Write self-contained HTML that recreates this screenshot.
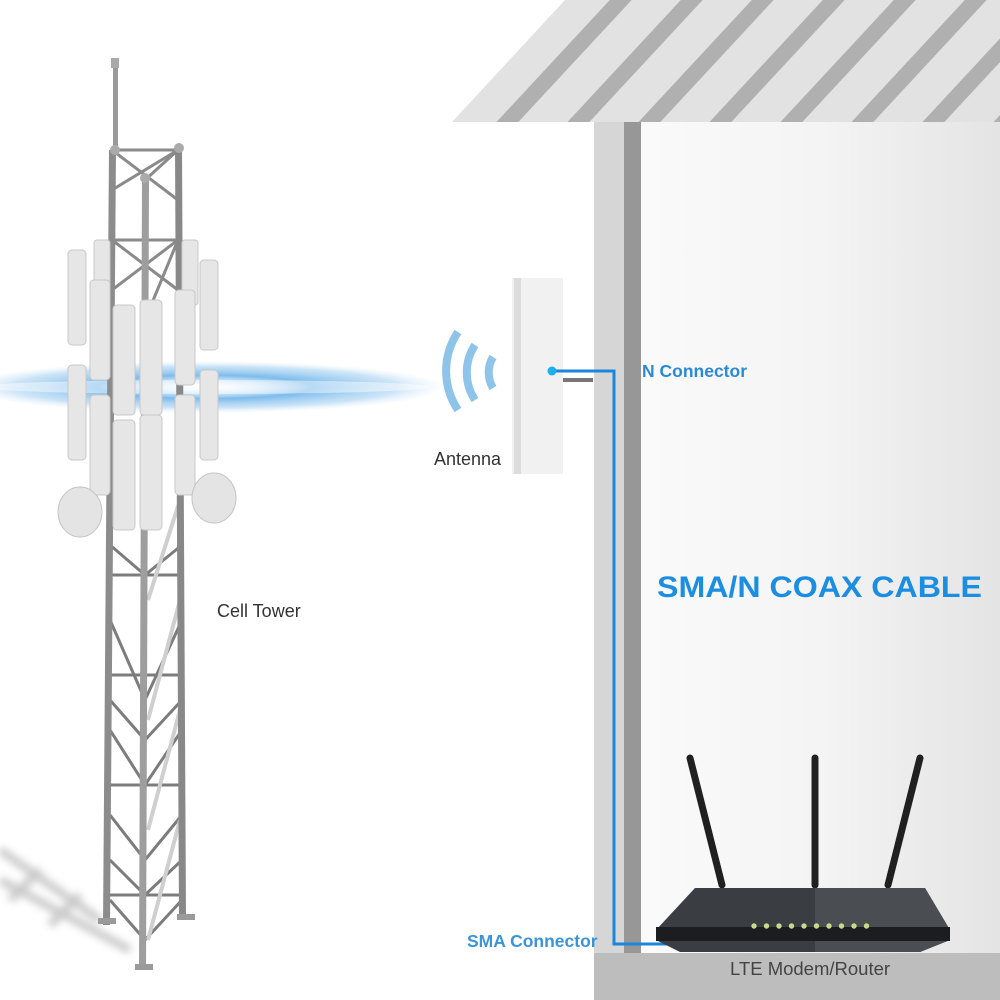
<!DOCTYPE html>
<html><head><meta charset="utf-8"><style>
html,body{margin:0;padding:0;background:#fff;}
svg{display:block;font-family:"Liberation Sans",Arial,sans-serif;}
</style></head><body>
<svg width="1000" height="1000" viewBox="0 0 1000 1000" xmlns="http://www.w3.org/2000/svg">
<defs>
<linearGradient id="wall" x1="0" x2="1" y1="0" y2="0">
<stop offset="0" stop-color="#fafafa"/><stop offset="0.5" stop-color="#f4f4f4"/><stop offset="1" stop-color="#e4e4e4"/>
</linearGradient>
<radialGradient id="beam" cx="0.5" cy="0.5" r="0.5">
<stop offset="0" stop-color="#ffffff" stop-opacity="0.3"/>
<stop offset="0.45" stop-color="#6fb4ea" stop-opacity="0.9"/>
<stop offset="0.8" stop-color="#a8d2f2" stop-opacity="0.6"/>
<stop offset="1" stop-color="#cfe6f8" stop-opacity="0"/>
</radialGradient>
<clipPath id="roofclip"><polygon points="452,122 565,0 1000,0 1000,122"/></clipPath>
<filter id="blur"><feGaussianBlur stdDeviation="4"/></filter>
</defs>

<!-- roof -->
<polygon points="452,122 565,0 1000,0 1000,122" fill="#e2e2e2"/>
<g clip-path="url(#roofclip)" stroke="#b0b0b0" stroke-width="16">
<line x1="500" y1="130" x2="630" y2="-10"/>
<line x1="571" y1="130" x2="701" y2="-10"/>
<line x1="642" y1="130" x2="772" y2="-10"/>
<line x1="713" y1="130" x2="843" y2="-10"/>
<line x1="784" y1="130" x2="914" y2="-10"/>
<line x1="855" y1="130" x2="985" y2="-10"/>
<line x1="926" y1="130" x2="1056" y2="-10"/>
<line x1="997" y1="130" x2="1127" y2="-10"/>
</g>

<!-- wall -->
<rect x="594" y="122" width="30" height="831" fill="#d6d6d6"/>
<rect x="624" y="122" width="17" height="831" fill="#979797"/>
<rect x="641" y="122" width="359" height="831" fill="url(#wall)"/>
<rect x="594" y="953" width="406" height="47" fill="#bdbdbd"/>

<!-- shadow of tower -->
<g filter="url(#blur)" opacity="0.45" stroke="#888" stroke-width="8">
<line x1="0" y1="850" x2="100" y2="920"/>
<line x1="0" y1="880" x2="130" y2="950"/>
<line x1="10" y1="900" x2="40" y2="870"/>
<line x1="50" y1="925" x2="80" y2="895"/>
</g>

<!-- beam -->
<ellipse cx="205" cy="387" rx="240" ry="26" fill="url(#beam)"/>
<ellipse cx="205" cy="387" rx="225" ry="7" fill="#ffffff" opacity="0.45"/>

<!-- tower lattice -->
<g stroke="#8a8a8a" stroke-width="3" fill="none">
<line x1="112" y1="150" x2="178" y2="150"/>
<line x1="112" y1="190" x2="178" y2="150"/>
<line x1="112" y1="150" x2="178" y2="200"/>
<line x1="112" y1="240" x2="178" y2="240"/>
<line x1="112" y1="290" x2="178" y2="240"/>
<line x1="112" y1="240" x2="178" y2="290"/>
<line x1="145" y1="180" x2="178" y2="150"/>
<line x1="145" y1="320" x2="178" y2="240"/>
</g>
<g stroke="#7c7c7c" stroke-width="3" fill="none">
<polyline points="110,545 145,575 182,545"/>
<line x1="110" y1="575" x2="182" y2="575"/>
<polyline points="110,620 145,700 182,620"/>
<line x1="110" y1="675" x2="182" y2="675"/>
<polyline points="110,700 145,740 182,700"/>
<line x1="110" y1="785" x2="182" y2="785"/>
<polyline points="110,730 145,785 182,730"/>
<polyline points="110,815 145,860 182,815"/>
<line x1="110" y1="895" x2="182" y2="895"/>
<polyline points="110,860 145,895 182,860"/>
<polyline points="110,900 145,940 182,900"/>
</g>
<g stroke="#cfcfcf" stroke-width="4">
<line x1="148" y1="720" x2="180" y2="600"/>
<line x1="148" y1="830" x2="180" y2="710"/>
<line x1="148" y1="940" x2="180" y2="820"/>
<line x1="148" y1="600" x2="180" y2="500"/>
</g>
<!-- legs -->
<rect x="113" y="60" width="5" height="95" fill="#9a9a9a"/>
<rect x="111" y="58" width="8" height="10" fill="#aaa"/>
<polygon points="109,150 116,150 110,925 103,925" fill="#8c8c8c"/>
<polygon points="142,180 149,180 146,970 139,970" fill="#9e9e9e"/>
<polygon points="175,148 182,148 186,920 179,920" fill="#888"/>
<circle cx="179" cy="148" r="5" fill="#aaa"/>
<circle cx="145" cy="178" r="5" fill="#aaa"/>
<circle cx="115" cy="150" r="5" fill="#aaa"/>
<g fill="#9a9a9a">
<rect x="98" y="918" width="18" height="6"/><rect x="135" y="964" width="18" height="6"/><rect x="177" y="914" width="18" height="6"/>
</g>

<!-- panel antennas -->
<g fill="#e6e6e6" stroke="#c8c8c8" stroke-width="1">
<rect x="94" y="240" width="16" height="65" rx="3"/>
<rect x="182" y="240" width="16" height="65" rx="3"/>
<rect x="68" y="250" width="18" height="95" rx="4"/>
<rect x="200" y="260" width="18" height="90" rx="4"/>
<rect x="90" y="280" width="20" height="100" rx="4"/>
<rect x="175" y="290" width="20" height="95" rx="4"/>
<rect x="113" y="305" width="22" height="110" rx="4"/>
<rect x="140" y="300" width="22" height="115" rx="4"/>
<rect x="68" y="365" width="18" height="95" rx="4"/>
<rect x="200" y="370" width="18" height="90" rx="4"/>
<rect x="90" y="395" width="20" height="100" rx="4"/>
<rect x="175" y="395" width="20" height="100" rx="4"/>
<rect x="113" y="420" width="22" height="110" rx="4"/>
<rect x="140" y="415" width="22" height="115" rx="4"/>
</g>
<ellipse cx="80" cy="512" rx="22" ry="25" fill="#e4e4e4" stroke="#c4c4c4"/>
<ellipse cx="214" cy="498" rx="22" ry="25" fill="#e4e4e4" stroke="#c4c4c4"/>

<!-- wave icon -->
<g fill="none" stroke="#8ec4ea" stroke-linecap="butt">
<path d="M458,332 A70,70 0 0 0 458,410" stroke-width="8"/>
<path d="M475,345 A50,50 0 0 0 475,400" stroke-width="8"/>
<path d="M493,357 A30,30 0 0 0 493,388" stroke-width="8"/>
</g>

<!-- antenna -->
<rect x="512" y="278" width="51" height="196" fill="#f1f1f1"/>
<rect x="514" y="278" width="7" height="196" fill="#dcdcdc"/>
<rect x="563" y="378" width="30" height="4" fill="#777"/>

<!-- cable -->
<polyline points="551,371 614,371 614,944 703,944" fill="none" stroke="#1a86dc" stroke-width="3"/>
<circle cx="552" cy="371" r="4.5" fill="#1cb0ea"/>
<circle cx="703" cy="946" r="5" fill="#1cb0ea"/>

<!-- router -->
<g stroke="#202020" stroke-linecap="round" stroke-width="7">
<line x1="690" y1="758" x2="722" y2="885"/>
<line x1="815" y1="758" x2="815" y2="885"/>
<line x1="920" y1="758" x2="888" y2="885"/>
</g>
<polygon points="695,888 925,888 950,930 950,940 920,952 680,952 656,940 656,930" fill="#3a3d42"/>
<polygon points="815,888 925,888 950,930 950,940 920,952 815,952" fill="#4a4d52"/>
<rect x="656" y="927" width="294" height="14" fill="#1c1d20"/>
<g fill="#c9d88a">
<circle cx="754" cy="926" r="2.7"/><circle cx="766.5" cy="926" r="2.7"/><circle cx="779" cy="926" r="2.7"/><circle cx="791.5" cy="926" r="2.7"/><circle cx="804" cy="926" r="2.7"/><circle cx="816.5" cy="926" r="2.7"/><circle cx="829" cy="926" r="2.7"/><circle cx="841.5" cy="926" r="2.7"/><circle cx="854" cy="926" r="2.7"/><circle cx="866.5" cy="926" r="2.7"/>
</g>

<!-- labels -->
<text x="642" y="377" font-size="17.5" font-weight="bold" fill="#2a8ad6">N Connector</text>
<text x="657" y="597" font-size="30" font-weight="bold" fill="#1c8ee2" textLength="325" lengthAdjust="spacingAndGlyphs">SMA/N COAX CABLE</text>
<text x="467" y="947" font-size="17.5" font-weight="bold" fill="#3a95d8">SMA Connector</text>
<text x="730" y="975" font-size="18.5" fill="#444">LTE Modem/Router</text>
<text x="434" y="465" font-size="18" fill="#333">Antenna</text>
<text x="217" y="617" font-size="18" fill="#333">Cell Tower</text>
</svg>
</body></html>
